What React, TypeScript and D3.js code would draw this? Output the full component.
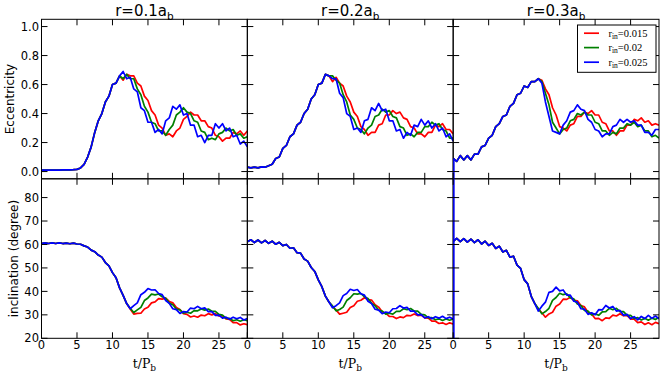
import React from 'react';
import * as d3 from 'd3';

// time grid t/P_b
const T = [0,0.5,1,1.5,2,2.5,3,3.5,4,4.5,5,5.5,6,6.5,7,7.5,8,8.5,9,9.5,10,10.5,11,11.5,12,12.5,13,13.5,14,14.5,15,15.5,16,16.5,17,17.5,18,18.5,19,19.5,20,20.5,21,21.5,22,22.5,23,23.5,24,24.5,25,25.5,26,26.5,27,27.5,28,28.5,29];

// ---- Eccentricity, r = 0.1 a_b ----
const ecc1Early = [0.01,0.01,0.01,0.01,0.01,0.01,0.012,0.012,0.012,0.013,0.015,0.025,0.05,0.1,0.17,0.27,0.35,0.4,0.48,0.52,0.6,0.61,0.66];
const ecc1BlueLate = [0.69,0.64,0.65,0.57,0.55,0.44,0.42,0.34,0.34,0.27,0.29,0.26,0.35,0.37,0.45,0.43,0.46,0.39,0.40,0.32,0.32,0.24,0.25,0.20,0.25,0.25,0.33,0.30,0.33,0.28,0.30,0.24,0.25,0.19,0.21,0.17];
const ecc1GreenLate = [0.64,0.67,0.64,0.64,0.57,0.53,0.45,0.41,0.34,0.33,0.28,0.28,0.25,0.29,0.32,0.39,0.41,0.44,0.41,0.40,0.35,0.34,0.28,0.27,0.22,0.23,0.22,0.26,0.27,0.30,0.28,0.29,0.25,0.26,0.23,0.24];
const ecc1RedLate = [0.63,0.67,0.66,0.66,0.61,0.59,0.52,0.49,0.42,0.39,0.32,0.30,0.25,0.26,0.24,0.28,0.30,0.36,0.38,0.41,0.39,0.39,0.35,0.35,0.31,0.30,0.25,0.24,0.21,0.23,0.23,0.27,0.26,0.28,0.25,0.28];

// ---- Eccentricity, r = 0.2 a_b ----
const ecc2Early = [0.03,0.025,0.03,0.025,0.032,0.03,0.04,0.05,0.09,0.1,0.16,0.18,0.24,0.26,0.32,0.34,0.40,0.43,0.50,0.53,0.60,0.61,0.67,0.66];
const ecc2BlueLate = [0.64,0.64,0.54,0.51,0.40,0.38,0.29,0.30,0.27,0.35,0.36,0.44,0.42,0.47,0.42,0.43,0.35,0.35,0.28,0.29,0.23,0.27,0.25,0.32,0.31,0.36,0.32,0.35,0.30,0.33,0.28,0.30,0.24,0.26,0.21];
const ecc2GreenLate = [0.66,0.63,0.61,0.53,0.48,0.39,0.36,0.30,0.29,0.26,0.30,0.32,0.38,0.39,0.43,0.41,0.42,0.38,0.37,0.31,0.30,0.25,0.26,0.24,0.27,0.27,0.31,0.31,0.34,0.32,0.33,0.29,0.28,0.23,0.23];
const ecc2RedLate = [0.62,0.65,0.61,0.59,0.52,0.48,0.41,0.38,0.31,0.29,0.25,0.27,0.27,0.32,0.33,0.39,0.39,0.42,0.40,0.41,0.37,0.36,0.31,0.30,0.26,0.26,0.24,0.27,0.27,0.32,0.31,0.33,0.29,0.29,0.26];

// ---- Eccentricity, r = 0.3 a_b ----
const ecc3Early = [0.09,0.07,0.11,0.08,0.11,0.08,0.12,0.12,0.17,0.18,0.23,0.25,0.31,0.33,0.38,0.39,0.45,0.47,0.53,0.54,0.59,0.58,0.62,0.62,0.64];
const ecc3BlueLate = [0.61,0.48,0.38,0.28,0.27,0.26,0.32,0.35,0.41,0.42,0.46,0.43,0.42,0.36,0.34,0.29,0.28,0.24,0.26,0.26,0.31,0.32,0.36,0.34,0.36,0.34,0.35,0.32,0.32,0.27,0.27,0.25,0.29,0.29];
const ecc3GreenLate = [0.62,0.54,0.46,0.34,0.30,0.26,0.29,0.30,0.35,0.36,0.40,0.39,0.41,0.39,0.39,0.34,0.33,0.28,0.28,0.25,0.27,0.26,0.30,0.30,0.33,0.32,0.34,0.31,0.32,0.28,0.28,0.24,0.25,0.23];
const ecc3RedLate = [0.63,0.57,0.53,0.44,0.39,0.31,0.30,0.28,0.32,0.33,0.38,0.38,0.41,0.40,0.42,0.39,0.39,0.34,0.33,0.28,0.28,0.25,0.28,0.28,0.32,0.32,0.36,0.35,0.37,0.34,0.35,0.32,0.33,0.32];

// ---- Inclination (degree), r = 0.1 a_b ----
const inc1Early = [60.4,60.7,60.4,60.7,60.4,60.7,60.4,60.6,60.3,60.6,60.2,60.1,59.4,58.9,57.6,56.9,55.5,54.6,52.3,50.9,48.0,45.8,41.5,38.3,34.8];
const inc1BlueLate = [32.6,33.9,35.1,38.6,39.6,41.2,40.6,40.7,39.1,38.6,36.1,34.9,32.6,32.2,30.6,31.4,31.2,32.9,32.6,33.6,32.6,33.0,31.4,31.4,29.8,29.9,28.6,29.0,28.1,29.0,28.3,28.9,27.8,28.4];
const inc1GreenLate = [32.8,31.0,32.1,33.2,36.1,37.2,38.8,38.5,38.9,37.7,37.1,35.0,34.3,32.5,32.1,30.7,31.1,30.7,31.8,31.7,32.5,32.0,32.5,31.5,31.5,30.2,29.9,28.5,28.5,27.5,27.9,27.3,27.9,27.5];
const inc1RedLate = [32.5,30.3,30.6,30.7,32.5,33.2,35.1,35.5,36.9,36.7,37.1,35.7,35.1,33.1,32.3,30.5,30.2,29.1,29.5,29.0,29.9,29.6,30.5,30.0,30.5,29.5,29.6,28.3,28.1,26.7,26.7,25.7,26.2,25.8];

// ---- Inclination (degree), r = 0.2 a_b ----
const inc2Early = [61.2,62.0,60.8,61.9,60.7,61.7,60.5,61.4,60.1,60.9,59.5,60.0,58.4,58.6,56.5,56.3,53.8,52.9,50.2,48.5,44.9,42.0,38.0,35.5];
const inc2BlueLate = [33.0,33.9,35.1,38.2,39.1,40.9,40.4,40.8,39.0,38.4,35.8,34.8,32.4,32.0,30.5,31.2,30.9,32.6,32.7,33.9,32.9,33.2,31.6,31.6,30.0,30.1,28.7,29.2,28.3,29.2,28.6,29.4,28.4,29.0,28.2];
const inc2GreenLate = [33.8,31.7,32.3,33.3,36.1,37.3,39.0,38.8,39.1,37.7,37.0,34.9,33.9,32.0,31.6,30.3,30.7,30.3,31.5,31.5,32.6,32.2,32.7,31.7,31.6,30.2,30.0,28.7,28.8,27.9,28.3,27.6,28.2,27.7,28.2];
const inc2RedLate = [33.5,32.1,30.3,30.7,31.1,33.1,33.9,35.8,36.2,37.3,36.5,36.3,34.3,33.3,31.3,30.7,29.3,29.3,28.4,29.1,28.8,29.8,29.6,30.4,29.7,29.9,28.7,28.6,27.3,27.3,26.3,26.6,25.9,26.6,26.1];

// ---- Inclination (degree), r = 0.3 a_b ----
const inc3Early = [61.3,62.6,61.2,62.5,61.0,62.3,60.8,62.0,60.2,61.4,59.6,60.5,58.3,59.3,56.8,57.5,54.6,55.0,51.2,49.8,45.0,43.2,37.9,34.8];
const inc3BlueLate = [31.6,33.7,35.4,39.6,40.0,41.8,40.2,40.6,38.4,38.4,35.8,35.4,32.6,32.4,30.2,30.9,30.0,32.2,32.1,34.0,32.9,33.6,31.6,31.9,29.8,30.2,28.4,29.2,27.9,29.3,28.4,29.8,28.5,29.5,28.3];
const inc3GreenLate = [32.7,30.4,31.4,32.8,36.2,37.4,39.2,38.6,39.0,37.2,36.8,34.6,34.0,31.9,31.6,30.0,30.4,29.8,31.3,31.4,32.8,32.2,32.8,31.4,31.4,29.8,29.8,28.4,28.8,27.8,28.5,27.7,28.6,28.0,29.0];
const inc3RedLate = [32.4,30.9,29.0,30.4,31.1,33.7,34.6,36.7,36.6,37.5,36.2,36.0,34.0,33.4,31.1,30.4,28.4,28.5,27.5,28.7,28.5,29.9,29.5,30.5,29.6,29.8,28.2,28.2,26.7,27.0,25.9,26.6,25.8,26.8,26.2];

// initial transient of the r = 0.3 a_b, r_in = 0.025 run (at t = 0)
const spikeT = [0, 0, 0];
const spikeEcc = [-0.2, -0.2, 0.09];
const spikeInc = [5, 95, 61.3];

const radii = ['0.1', '0.2', '0.3'];
const rinLabels = ['0.015', '0.02', '0.025'];
const colors = ['#ff0000', '#008000', '#0000ff'];
const xTicks = [0, 5, 10, 15, 20, 25];
const eccTicks = [0, 0.2, 0.4, 0.6, 0.8, 1.0];
const incTicks = [20, 30, 40, 50, 60, 70, 80];

const eccSeries = [
  [[...ecc1Early, ...ecc1RedLate], [...ecc1Early, ...ecc1GreenLate], [...ecc1Early, ...ecc1BlueLate]],
  [[...ecc2Early, ...ecc2RedLate], [...ecc2Early, ...ecc2GreenLate], [...ecc2Early, ...ecc2BlueLate]],
  [[...ecc3Early, ...ecc3RedLate], [...ecc3Early, ...ecc3GreenLate], [...ecc3Early, ...ecc3BlueLate]],
];
const incSeries = [
  [[...inc1Early, ...inc1RedLate], [...inc1Early, ...inc1GreenLate], [...inc1Early, ...inc1BlueLate]],
  [[...inc2Early, ...inc2RedLate], [...inc2Early, ...inc2GreenLate], [...inc2Early, ...inc2BlueLate]],
  [[...inc3Early, ...inc3RedLate], [...inc3Early, ...inc3GreenLate], [...inc3Early, ...inc3BlueLate]],
];

const LEFT = 41.5, RIGHT = 659, TOP = 19.3, MID = 178.8, BOTTOM = 338.3;
const PW = (RIGHT - LEFT) / 3;
const TL = 6;

function Panel({ col, row }: { col: number; row: number }) {
  const x0 = LEFT + col * PW, x1 = x0 + PW;
  const y0 = row === 0 ? TOP : MID, y1 = row === 0 ? MID : BOTTOM;
  const x = d3.scaleLinear().domain([0, 29]).range([x0, x1]);
  const y = row === 0
    ? d3.scaleLinear().domain([-0.05, 1.05]).range([y1, y0])
    : d3.scaleLinear().domain([20, 88]).range([y1, y0]);
  const yTicks = row === 0 ? eccTicks : incTicks;
  const data = row === 0 ? eccSeries[col] : incSeries[col];
  const line = d3.line<number>().x((_, i) => x(T[i])).y((v) => y(v));
  const spikeVals = row === 0 ? spikeEcc : spikeInc;
  const spikeLine = d3.line<number>().x((_, i) => x(spikeT[i])).y((v) => y(v));
  const clipId = `clip-${row}-${col}`;
  const fmt = row === 0 ? d3.format('.1f') : d3.format('d');
  return (
    <g>
      <clipPath id={clipId}>
        <rect x={x0} y={y0} width={x1 - x0} height={y1 - y0} />
      </clipPath>
      <g clipPath={`url(#${clipId})`}>
        {data.map((s, k) => (
          <path key={k} d={line(s) || ''} fill="none" stroke={colors[k]} strokeWidth={1.7} strokeLinejoin="round" />
        ))}
      </g>
      <rect x={x0} y={y0} width={x1 - x0} height={y1 - y0} fill="none" stroke="#000" strokeWidth={1} />
      {col === 2 && (
        <g clipPath={`url(#${clipId})`}>
          <path d={spikeLine(spikeVals) || ''} fill="none" stroke={colors[2]} strokeWidth={3} />
        </g>
      )}
      {xTicks.map((t) => (
        <g key={'x' + t}>
          <line x1={x(t)} x2={x(t)} y1={y1} y2={y1 - TL} stroke="#000" strokeWidth={1} />
          <line x1={x(t)} x2={x(t)} y1={y0} y2={y0 + TL} stroke="#000" strokeWidth={1} />
          {row === 1 && (
            <text x={x(t)} y={349.2} textAnchor="middle" fontSize={11.5} fill="#000">{t}</text>
          )}
        </g>
      ))}
      {yTicks.map((v) => (
        <g key={'y' + v}>
          <line x1={x0} x2={x0 + TL} y1={y(v)} y2={y(v)} stroke="#000" strokeWidth={1} />
          <line x1={x1} x2={x1 - TL} y1={y(v)} y2={y(v)} stroke="#000" strokeWidth={1} />
          {col === 0 && (
            <text x={x0 - 2.5} y={y(v)} dy="0.36em" textAnchor="end" fontSize={11.5} fill="#000">{fmt(v)}</text>
          )}
        </g>
      ))}
      {row === 0 && (
        <text x={(x0 + x1) / 2} y={16} textAnchor="middle" fontSize={15} fill="#000">
          r={radii[col]}a<tspan fontSize={10.5} dy={4}>b</tspan>
        </text>
      )}
      {row === 1 && (
        <text x={(x0 + x1) / 2} y={368} textAnchor="middle" fontSize={12.5} fontFamily="DejaVu Serif" fill="#000">
          t/P<tspan fontSize={9} dy={2.5}>b</tspan>
        </text>
      )}
    </g>
  );
}

function Legend() {
  const bx = 577.5, by = 25, bw = 78.5, bh = 47.3;
  const rows = [33.2, 47.6, 62.2];
  return (
    <g>
      <rect x={bx} y={by} width={bw} height={bh} fill="#fff" stroke="#000" strokeWidth={1} />
      {rinLabels.map((lab, k) => (
        <g key={lab}>
          <line x1={584} x2={599} y1={rows[k]} y2={rows[k]} stroke={colors[k]} strokeWidth={1.7} />
          <text x={608.5} y={rows[k] + 3.6} fontFamily="Liberation Serif" fontSize={10.5} fill="#000">
            r<tspan fontSize={7.5} dy={1.8}>in</tspan><tspan dy={-1.8}>=</tspan>{lab}
          </text>
        </g>
      ))}
    </g>
  );
}

export default function App() {
  return (
    <svg width={664} height={376} viewBox="0 0 664 376" fontFamily="DejaVu Sans"
      style={{ position: 'absolute', left: 0, top: 0, background: '#fff' }}>
      <rect x={0} y={0} width={664} height={376} fill="#fff" />
      {[0, 1].map((row) => [0, 1, 2].map((col) => <Panel key={`${row}-${col}`} row={row} col={col} />))}
      <text transform={`translate(14,${(TOP + MID) / 2}) rotate(-90)`} textAnchor="middle" fontSize={12} fill="#000">Eccentricity</text>
      <text transform={`translate(17.5,${(MID + BOTTOM) / 2}) rotate(-90)`} textAnchor="middle" fontSize={12} fill="#000">inclination (degree)</text>
      <Legend />
    </svg>
  );
}
